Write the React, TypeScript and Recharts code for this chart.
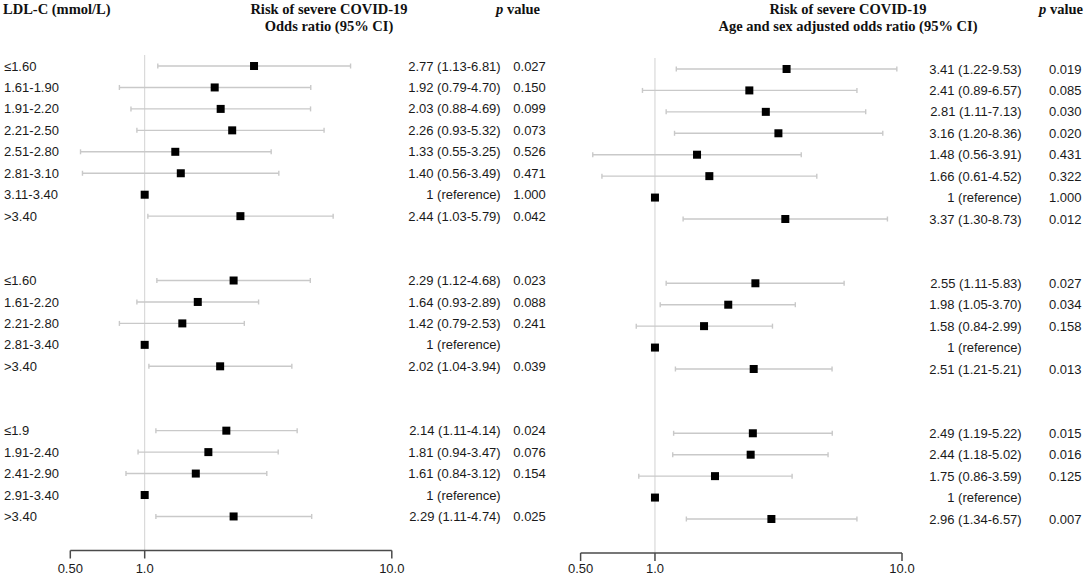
import React from 'react';
import { ScatterChart, Scatter, XAxis, YAxis, ErrorBar, ReferenceLine } from 'recharts';

const SANS = '"Liberation Sans", Arial, sans-serif';
const SERIF = '"Liberation Serif", "Times New Roman", serif';

// row slots (gaps between the three groupings)
const rows = [0, 1, 2, 3, 4, 5, 6, 7, 10, 11, 12, 13, 14, 17, 18, 19, 20, 21];
const labels = [
  '≤1.60', '1.61-1.90', '1.91-2.20', '2.21-2.50', '2.51-2.80', '2.81-3.10', '3.11-3.40', '>3.40',
  '≤1.60', '1.61-2.20', '2.21-2.80', '2.81-3.40', '>3.40',
  '≤1.9', '1.91-2.40', '2.41-2.90', '2.91-3.40', '>3.40',
];

const crudeOr = [2.77, 1.92, 2.03, 2.26, 1.33, 1.4, 1, 2.44, 2.29, 1.64, 1.42, 1, 2.02, 2.14, 1.81, 1.61, 1, 2.29];
const crudeLow = [1.13, 0.79, 0.88, 0.93, 0.55, 0.56, null, 1.03, 1.12, 0.93, 0.79, null, 1.04, 1.11, 0.94, 0.84, null, 1.11];
const crudeHigh = [6.81, 4.7, 4.69, 5.32, 3.25, 3.49, null, 5.79, 4.68, 2.89, 2.53, null, 3.94, 4.14, 3.47, 3.12, null, 4.74];
const crudeP = ['0.027', '0.150', '0.099', '0.073', '0.526', '0.471', '1.000', '0.042', '0.023', '0.088', '0.241', '', '0.039', '0.024', '0.076', '0.154', '', '0.025'];

const adjOr = [3.41, 2.41, 2.81, 3.16, 1.48, 1.66, 1, 3.37, 2.55, 1.98, 1.58, 1, 2.51, 2.49, 2.44, 1.75, 1, 2.96];
const adjLow = [1.22, 0.89, 1.11, 1.2, 0.56, 0.61, null, 1.3, 1.11, 1.05, 0.84, null, 1.21, 1.19, 1.18, 0.86, null, 1.34];
const adjHigh = [9.53, 6.57, 7.13, 8.36, 3.91, 4.52, null, 8.73, 5.83, 3.7, 2.99, null, 5.21, 5.22, 5.02, 3.59, null, 6.57];
const adjP = ['0.019', '0.085', '0.030', '0.020', '0.431', '0.322', '1.000', '0.012', '0.027', '0.034', '0.158', '', '0.013', '0.015', '0.016', '0.125', '', '0.007'];

const xTicks = [0.5, 1, 10];
const xTickLabels = ['0.50', '1.0', '10.0'];

const ROW_DOMAIN: [number, number] = [-0.513, 22.587];

type Row = { row: number; label: string; or: number; err: number[] | null; text: string; p: string };

const buildRows = (or: number[], low: (number | null)[], high: (number | null)[], p: string[]): Row[] =>
  rows.map((row, i) => {
    const lo = low[i];
    const hi = high[i];
    const hasCi = lo != null && hi != null;
    return {
      row,
      label: labels[i],
      or: or[i],
      err: hasCi ? [or[i] - (lo as number), (hi as number) - or[i]] : null,
      text: hasCi ? `${or[i].toFixed(2)} (${(lo as number).toFixed(2)}-${(hi as number).toFixed(2)})` : '1 (reference)',
      p: p[i],
    };
  });

const crudeRows = buildRows(crudeOr, crudeLow, crudeHigh, crudeP);
const adjRows = buildRows(adjOr, adjLow, adjHigh, adjP);

const Square = (props: any) => (
  <rect x={props.cx - 4} y={props.cy - 4} width={8} height={8} fill="#000" />
);

interface PanelProps {
  data: Row[];
  width: number;
  height: number;
  marginTop: number;
  marginLeft: number;
  labelWidth: number;
  textWidth: number;
  axisHeight: number;
  tickMargin: number;
  orEnd: number;
  pStart: number;
  showLabels: boolean;
}

const ForestPanel: React.FC<PanelProps> = ({
  data, width, height, marginTop, marginLeft, labelWidth, textWidth,
  axisHeight, tickMargin, orEnd, pStart, showLabels,
}) => {
  const byRow = new Map(data.map((d) => [d.row, d]));
  const textStyle = { fontFamily: SANS, fontSize: 13, fill: '#1a1a1a' };

  const labelTick = (p: any) => (
    <text x={p.x - labelWidth + 4} y={p.y} dy="0.35em" textAnchor="start" style={textStyle}>
      {byRow.get(p.payload.value)?.label}
    </text>
  );

  const valueTick = (p: any) => {
    const d = byRow.get(p.payload.value);
    if (!d) return <g />;
    return (
      <g>
        <text x={p.x + orEnd} y={p.y} dy="0.35em" textAnchor="end" style={textStyle}>{d.text}</text>
        <text x={p.x + pStart} y={p.y} dy="0.35em" textAnchor="start" style={textStyle}>{d.p}</text>
      </g>
    );
  };

  return (
    <ScatterChart width={width} height={height} margin={{ top: marginTop, right: 0, bottom: 0, left: marginLeft }}>
      <XAxis
        type="number"
        dataKey="or"
        scale="log"
        domain={[0.5, 10]}
        allowDataOverflow
        ticks={xTicks}
        interval={0}
        tickFormatter={(v) => xTickLabels[xTicks.indexOf(v)]}
        height={axisHeight}
        tickSize={8}
        tickMargin={tickMargin}
        stroke="#4a4a4a"
        strokeWidth={1.5}
        tick={{ fill: '#1a1a1a', fontSize: 13, fontFamily: SANS }}
      />
      <YAxis
        yAxisId="rows"
        type="number"
        dataKey="row"
        domain={ROW_DOMAIN}
        reversed
        allowDataOverflow
        ticks={rows}
        interval={0}
        width={labelWidth}
        hide={!showLabels}
        axisLine={false}
        tickLine={false}
        tickSize={0}
        tickMargin={0}
        tick={labelTick}
      />
      <YAxis
        yAxisId="values"
        orientation="right"
        type="number"
        dataKey="row"
        domain={ROW_DOMAIN}
        reversed
        allowDataOverflow
        ticks={rows}
        interval={0}
        width={textWidth}
        axisLine={false}
        tickLine={false}
        tickSize={0}
        tickMargin={0}
        tick={valueTick}
      />
      <ReferenceLine yAxisId="rows" x={1} stroke="#d2d2d2" strokeWidth={1} />
      <Scatter yAxisId="rows" data={data} shape={Square} isAnimationActive={false}>
        <ErrorBar dataKey="err" direction="x" width={2.5} stroke="#c9c9c9" strokeWidth={1.4} />
      </Scatter>
    </ScatterChart>
  );
};

const headStyle: React.CSSProperties = {
  position: 'absolute',
  fontFamily: SERIF,
  fontWeight: 'bold',
  fontSize: 14.5,
  lineHeight: '17px',
  color: '#111',
  whiteSpace: 'nowrap',
};

export default function App() {
  return (
    <div style={{ position: 'absolute', left: 0, top: 0, width: 1084, height: 577, background: '#fff', overflow: 'hidden' }}>
      <div style={{ ...headStyle, left: 3, top: 1 }}>LDL-C (mmol/L)</div>
      <div style={{ ...headStyle, left: 179, top: 1, width: 300, textAlign: 'center' }}>
        Risk of severe COVID-19<br />Odds ratio (95% CI)
      </div>
      <div style={{ ...headStyle, left: 496, top: 1 }}><i>p</i> value</div>
      <div style={{ ...headStyle, left: 698, top: 1, width: 300, textAlign: 'center' }}>
        Risk of severe COVID-19<br />Age and sex adjusted odds ratio (95% CI)
      </div>
      <div style={{ ...headStyle, left: 1039, top: 1 }}><i>p</i> value</div>

      <div style={{ position: 'absolute', left: 0, top: 0 }}>
        <ForestPanel
          data={crudeRows}
          width={565}
          height={577}
          marginTop={55}
          marginLeft={0}
          labelWidth={70.3}
          textWidth={173.2}
          axisHeight={26.5}
          tickMargin={5}
          orEnd={108.9}
          pStart={121.5}
          showLabels
        />
      </div>
      <div style={{ position: 'absolute', left: 540, top: 0 }}>
        <ForestPanel
          data={adjRows}
          width={544}
          height={577}
          marginTop={58}
          marginLeft={40.6}
          labelWidth={0}
          textWidth={182}
          axisHeight={24}
          tickMargin={3}
          orEnd={119.7}
          pStart={147}
          showLabels={false}
        />
      </div>
    </div>
  );
}
